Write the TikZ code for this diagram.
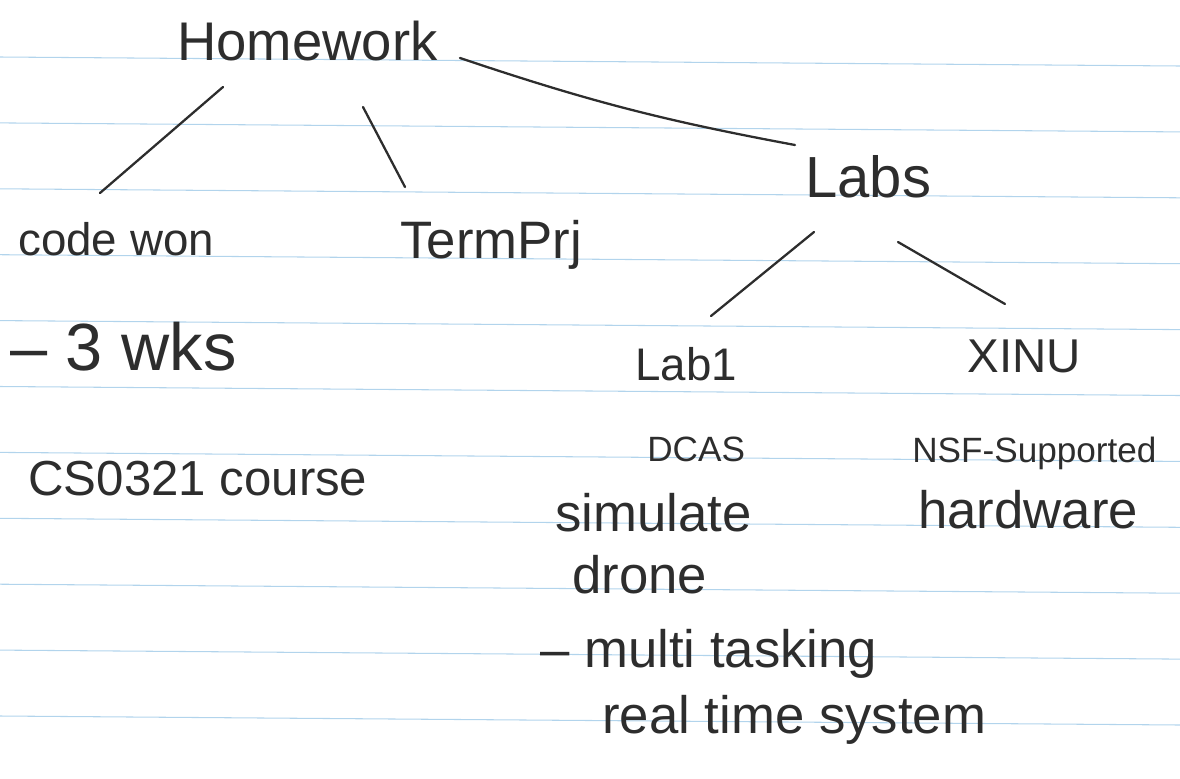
\documentclass[tikz,border=0pt]{standalone}
\usepackage{fontspec}
\setmainfont{Liberation Sans}
\usetikzlibrary{calc}

\definecolor{ink}{RGB}{45,45,45}
\definecolor{ruling}{RGB}{178,212,236}

\begin{document}
\begin{tikzpicture}[x=0.02cm, y=-0.02cm,
    note/.style={anchor=base west, inner sep=0pt, text=ink, font=\fontsize{30}{36}\selectfont},
    small/.style={font=\fontsize{20}{24}\selectfont},
    link/.style={draw=ink, line width=1.3pt, line cap=round},
    rule/.style={draw=ruling, line width=0.6pt}]
    \useasboundingbox (0,0) rectangle (1180,778);

    % ruled paper
    \foreach \k in {0,...,10}
        \draw [rule] (0,{57+65.9*\k}) -- (1180,{66+65.9*\k});

    % tree
    \node (homework) [note, font=\fontsize{31}{36}\selectfont] at (177,60) {Homework};
    \node (codewon) [note, font=\fontsize{26}{30}\selectfont] at (18,255) {code won};
    \node (termprj) [note] at (400,258) {TermPrj};
    \node (labs) [note, font=\fontsize{33}{38}\selectfont] at (805,197) {Labs};
    \node (lab1) [note, font=\fontsize{26}{30}\selectfont] at (635,380) {Lab1};
    \node (xinu) [note, font=\fontsize{27}{30}\selectfont] at (967,372) {XINU};

    \draw [link] ([shift={(46,27)}]homework.base west) -- ([shift={(82,-62)}]codewon.base west);
    \draw [link] ([shift={(186,47)}]homework.base west) -- ([shift={(5,-71)}]termprj.base west);
    \draw [link] ([shift={(283,-2)}]homework.base west) to[bend right=4] ([shift={(-10,-52)}]labs.base west);
    \draw [link] ([shift={(9,35)}]labs.base west) -- ([shift={(76,-64)}]lab1.base west);
    \draw [link] ([shift={(93,45)}]labs.base west) -- ([shift={(38,-68)}]xinu.base west);

    % notes under the leaves
    \node (weeks) [note, font=\fontsize{38}{44}\selectfont] at (10,370) {– 3 wks};
    \node (course) [note, font=\fontsize{28}{32}\selectfont] at (28,495) {CS0321 course};

    \node (dcas) [note, small] at (647,461) {DCAS};
    \node (simulate) [note] at (555,531) {simulate};
    \node (drone) [note] at (572,593) {drone};
    \node (multitask) [note] at (540,667) {– multi tasking};
    \node (realtime) [note] at (602,733) {real time system};

    \node (nsf) [note, small] at (912,462) {NSF-Supported};
    \node (hardware) [note] at (918,528) {hardware};
\end{tikzpicture}
\end{document}
